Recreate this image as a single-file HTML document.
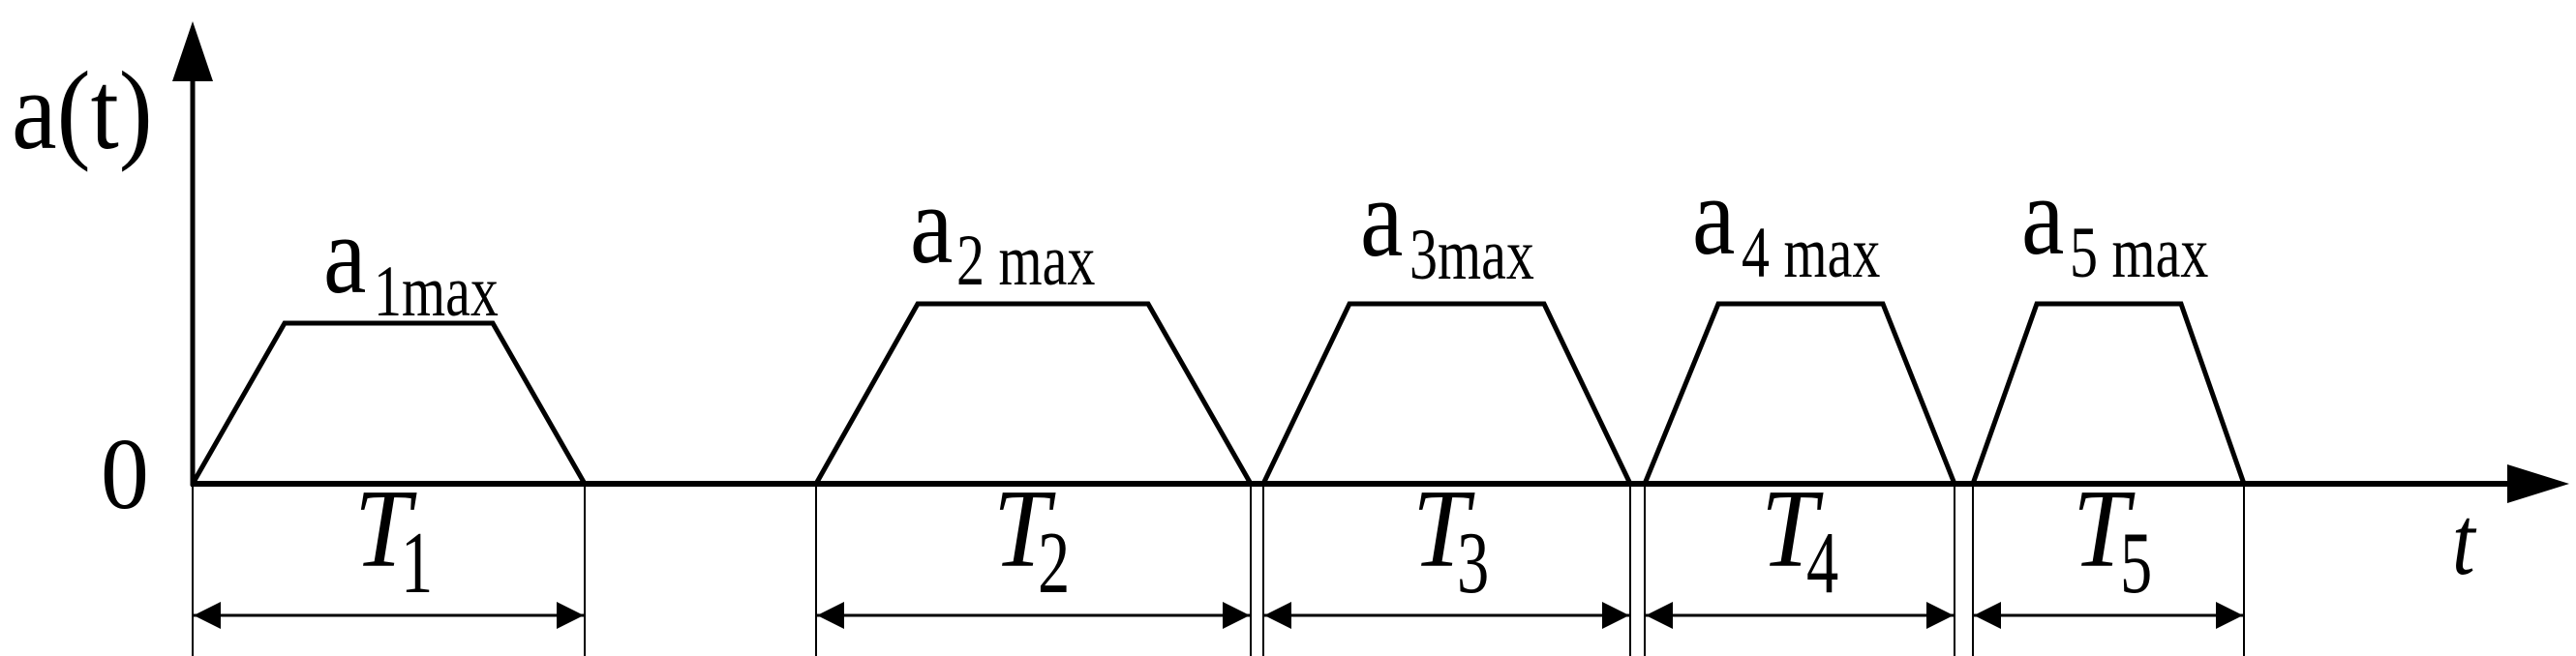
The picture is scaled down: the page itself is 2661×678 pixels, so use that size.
<!DOCTYPE html>
<html><head><style>html,body{margin:0;padding:0;background:#fff;}svg{display:block;}text{font-family:"Liberation Serif","Times New Roman",serif;}</style></head>
<body>
<svg width="2661" height="678" viewBox="0 0 2661 678" xmlns="http://www.w3.org/2000/svg">
<defs>
<marker id="ar" viewBox="0 0 10 10" refX="10" refY="5" markerWidth="42" markerHeight="28" markerUnits="userSpaceOnUse" orient="auto-start-reverse"><path d="M0,0 L10,5 L0,10 z" fill="#000"/></marker>
</defs>
<line x1="199" y1="502" x2="199" y2="80" stroke="#000" stroke-width="5"/>
<polygon points="199,22 178,84 220,84" fill="#000"/>
<line x1="197" y1="500" x2="2595" y2="500" stroke="#000" stroke-width="6"/>
<polygon points="2654,500 2590,480 2590,520" fill="#000"/>
<g fill="none" stroke="#000" stroke-width="5" stroke-linejoin="miter">
<polyline points="199,500 294,334 509,334 604,500"/>
<polyline points="843,500 948,314 1186,314 1292,500"/>
<polyline points="1305,500 1394,314 1595,314 1684,500"/>
<polyline points="1699,500 1775,314 1945,314 2019,500"/>
<polyline points="2038,500 2104,314 2253,314 2318,500"/>
</g>
<g stroke="#000" stroke-width="2">
<line x1="199" y1="500" x2="199" y2="678"/>
<line x1="604" y1="500" x2="604" y2="678"/>
<line x1="843" y1="500" x2="843" y2="678"/>
<line x1="1292" y1="500" x2="1292" y2="678"/>
<line x1="1305" y1="500" x2="1305" y2="678"/>
<line x1="1684" y1="500" x2="1684" y2="678"/>
<line x1="1699" y1="500" x2="1699" y2="678"/>
<line x1="2019" y1="500" x2="2019" y2="678"/>
<line x1="2038" y1="500" x2="2038" y2="678"/>
<line x1="2318" y1="500" x2="2318" y2="678"/>
</g>
<g stroke="#000" stroke-width="3" marker-start="url(#ar)" marker-end="url(#ar)">
<line x1="200" y1="636" x2="603" y2="636"/>
<line x1="844" y1="636" x2="1291" y2="636"/>
<line x1="1306" y1="636" x2="1683" y2="636"/>
<line x1="1700" y1="636" x2="2018" y2="636"/>
<line x1="2039" y1="636" x2="2317" y2="636"/>
</g>
<g fill="#000">
<text transform="matrix(1.05 0 0 1.15 12 153)" font-size="100">a(t)</text>
<text transform="matrix(1.05 0 0 1.1 104 525)" font-size="95">0</text>
<text transform="matrix(1 0 0 1.2 2533 593)" font-size="85" font-style="italic">t</text>
<g font-size="100">
<text transform="matrix(1 0 0 1.15 334 302)">a</text>
<text transform="matrix(1 0 0 1.15 940 271)">a</text>
<text transform="matrix(1 0 0 1.15 1405 264)">a</text>
<text transform="matrix(1 0 0 1.15 1748 262)">a</text>
<text transform="matrix(1 0 0 1.15 2088 262)">a</text>
</g>
<g font-size="58">
<text transform="matrix(1 0 0 1.3 386 326)">1max</text>
<text transform="matrix(1 0 0 1.3 988 294)">2 max</text>
<text transform="matrix(1 0 0 1.3 1456 288)">3max</text>
<text transform="matrix(1 0 0 1.3 1799 286)">4 max</text>
<text transform="matrix(1 0 0 1.3 2138 286)">5 max</text>
</g>
<g font-size="100" font-style="italic">
<text transform="matrix(1.05 0 0 1.15 366 585)">T</text>
<text transform="matrix(1.05 0 0 1.15 1026 585)">T</text>
<text transform="matrix(1.05 0 0 1.15 1459 585)">T</text>
<text transform="matrix(1.05 0 0 1.15 1819 585)">T</text>
<text transform="matrix(1.05 0 0 1.15 2141 585)">T</text>
</g>
<g font-size="70">
<text transform="matrix(0.95 0 0 1.3 414 612)">1</text>
<text transform="matrix(0.95 0 0 1.3 1072 612)">2</text>
<text transform="matrix(0.95 0 0 1.3 1505 612)">3</text>
<text transform="matrix(0.95 0 0 1.3 1866 612)">4</text>
<text transform="matrix(0.95 0 0 1.3 2190 612)">5</text>
</g>
</g>
</svg>
</body></html>
